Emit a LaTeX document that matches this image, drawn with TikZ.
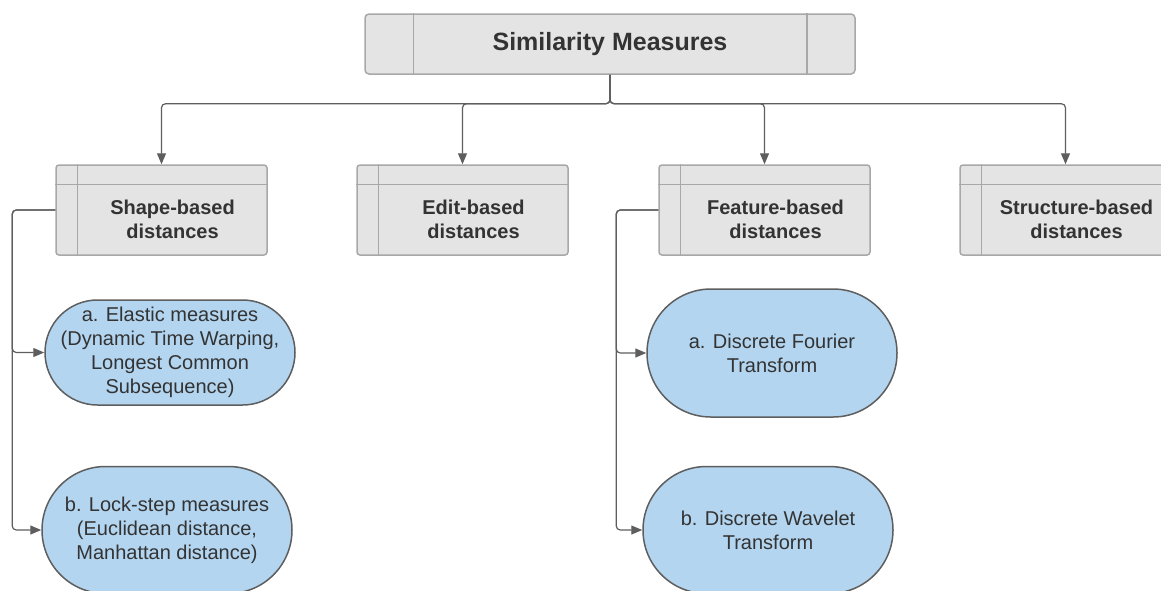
\documentclass[tikz,border=0pt]{standalone}
\usepackage{fontspec}
\setmainfont{Liberation Sans}
\usetikzlibrary{positioning}
\usetikzlibrary{arrows.meta}
\definecolor{boxgray}{HTML}{E4E4E4}
\definecolor{linegray}{HTML}{A8A8A8}
\definecolor{leafblue}{HTML}{B3D5F0}
\definecolor{wiregray}{HTML}{5E5E5E}
\definecolor{txtgray}{HTML}{333333}

\begin{document}
\begin{tikzpicture}[x=1pt,y=-1pt,
  node distance = 60pt,
  head/.style = {draw=linegray,line width=1.5pt,fill=boxgray,rounded corners=4pt,
        minimum width=490pt,minimum height=60pt,text=txtgray,
        font=\bfseries\fontsize{25}{30}\selectfont},
  cat/.style = {draw=linegray,line width=1.5pt,fill=boxgray,rounded corners=3pt,
        minimum width=211pt,minimum height=90pt},
  cattext/.style = {text=txtgray,font=\bfseries\fontsize{20}{24}\selectfont,align=center},
  leaf/.style = {rectangle,draw=wiregray,line width=1.5pt,fill=leafblue,
        rounded corners=#1,minimum height={2*#1},inner sep=0pt,
        text=txtgray,font=\fontsize{20}{24}\selectfont,align=center,
        minimum width=250pt},
  wire/.style = {draw=wiregray,line width=1.2pt,rounded corners=4pt,
        -{Triangle[length=11pt,width=9pt]}}]
 \fill[white] (0,0) rectangle (1161,590);
 \useasboundingbox (0,0) rectangle (1161,590);
 \node[head] (sim) at (610,44) {Similarity Measures};
 \draw[linegray,line width=1.5pt]
  ([xshift=49pt]sim.north west) -- ([xshift=49pt]sim.south west)
  ([xshift=-49pt]sim.north east) -- ([xshift=-49pt]sim.south east);
 \foreach \nm/\cx/\txt in {shape/161.5/Shape-based, edit/462.5/Edit-based,
        feat/764.5/Feature-based, struct/1065.5/Structure-based}{
  \node[cat] (\nm) at (\cx,210) {};
  \draw[linegray,line width=1.5pt]
   ([xshift=22pt]\nm.north west) -- ([xshift=22pt]\nm.south west)
   ([yshift=-20pt]\nm.north west) -- ([yshift=-20pt]\nm.north east);
  \node[cattext] (\nm txt) at ([shift={(11,9)}]\nm.center) {\txt\\distances};
  \draw[wire] (sim.south) -- ++(0,29) -| (\nm.north);
 }
 \node[leaf=52.5pt] (elastic) at (170,352.5)
  {a. Elastic measures\\(Dynamic Time Warping,\\Longest Common\\Subsequence)};
 \node[leaf=63.5pt,below=of elastic,xshift=-3pt] (lockstep)
  {b. Lock-step measures\\(Euclidean distance,\\Manhattan distance)};
 \node[leaf=64pt] (fourier) at (772,353)
  {a. Discrete Fourier\\Transform};
 \node[leaf=63.5pt,below=48pt of fourier,xshift=-4pt] (wavelet)
  {b. Discrete Wavelet\\Transform};
 %\node[leaf=60pt] (dtw) {};
 \draw[wire] (shape.west) -- ++(-43,0) |- (elastic.west);
 \draw[wire] (shape.west) -- ++(-43,0) |- (lockstep.west);
 \draw[wire] (feat.west) -- ++(-42,0) |- (fourier.west);
 \draw[wire] (feat.west) -- ++(-42,0) |- (wavelet.west);
\end{tikzpicture}
\end{document}
